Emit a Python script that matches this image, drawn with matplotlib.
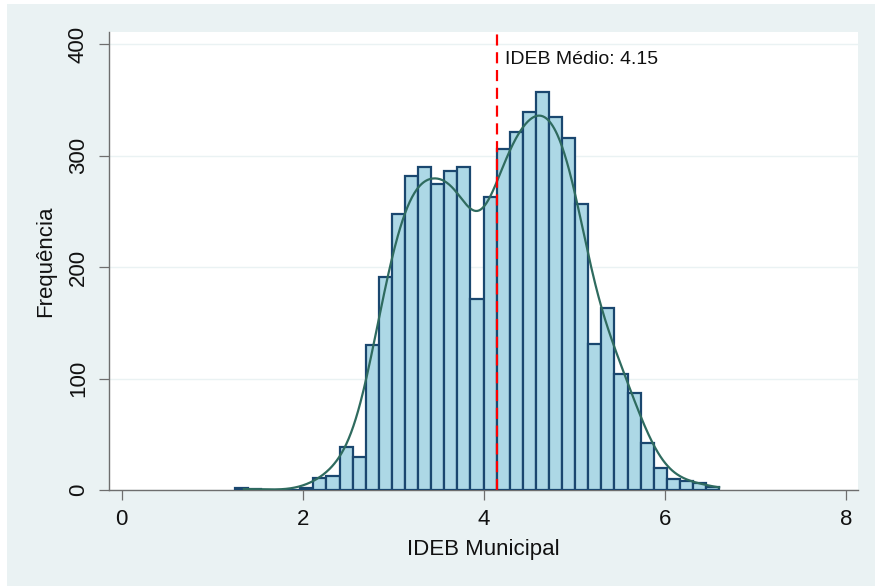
import math
import numpy as np
import matplotlib
matplotlib.use("Agg")
import matplotlib.pyplot as plt
from matplotlib.patches import Rectangle

plt.rcParams['font.family'] = ['Liberation Sans', 'DejaVu Sans']

# Histogram of municipal IDEB scores: 37 equal-width bins
bin_start = 1.25
bin_end = 6.60
counts = [2, 1, 0, 0, 0, 2,
          11, 13, 39, 30, 130, 191, 248, 282, 290, 275, 286, 290, 171, 263,
          306, 321, 339, 357, 335, 316, 257, 131, 163, 104, 87, 42, 20, 10, 8, 6, 3]
ideb_mean = 4.15
mean_label = "IDEB Médio: 4.15"

x_ticks = [0, 2, 4, 6, 8]
y_ticks = [0, 100, 200, 300, 400]

BG = "#EAF2F3"
BAR_FILL = "#ADD8E6"
BAR_EDGE = "#1A476F"
KDE_COLOR = "#2F6B5F"
AXIS_COLOR = "#6E6E6E"

counts = np.asarray(counts, dtype=float)
nbins = len(counts)
edges = np.linspace(bin_start, bin_end, nbins + 1)
width = edges[1] - edges[0]

fig = plt.figure(figsize=(8.75, 5.86), dpi=100, facecolor="white")
fig.patches.append(Rectangle((7 / 875, 0), 1, 1 - 4 / 586, transform=fig.transFigure,
                             facecolor=BG, edgecolor="none", zorder=-10))

ax = fig.add_axes([109 / 875, (586 - 490) / 586, 749 / 875, 458 / 586])
ax.set_facecolor("white")

ax.bar(edges[:-1], counts, width=width, align="edge", color=BAR_FILL,
       edgecolor=BAR_EDGE, linewidth=1.6, zorder=3)

# Smoothed density, scaled to frequency units (binned data convolved with a Gaussian)
h = 0.19
xs = np.linspace(bin_start + 0.1, bin_end, 600)
erf = np.vectorize(math.erf)
def phi(z):
    return 0.5 * (1 + erf(z / math.sqrt(2)))
dens = np.zeros_like(xs)
for c, lo, hi in zip(counts, edges[:-1], edges[1:]):
    dens += c * (phi((xs - lo) / h) - phi((xs - hi) / h))
ax.plot(xs, dens, color=KDE_COLOR, linewidth=1.6, zorder=4)

ax.axvline(ideb_mean, color="#FF0000", linewidth=1.6, linestyle=(0, (5, 3)), zorder=5)
ax.text(ideb_mean + 0.08, 386.5, mean_label, fontsize=14, va="center", ha="left",
        color="#111111", zorder=6)

ax.set_xlim(-0.14, 8.134)
ax.set_ylim(0, 411)
ax.set_xticks(x_ticks)
ax.set_yticks(y_ticks)
ax.set_xticklabels([str(t) for t in x_ticks])
ax.set_yticklabels([str(t) for t in y_ticks], rotation=90, va="center")

ax.yaxis.grid(True, color=BG, linewidth=1.0, zorder=0)
ax.set_axisbelow(True)

for s in ("top", "right"):
    ax.spines[s].set_visible(False)
for s in ("left", "bottom"):
    ax.spines[s].set_color(AXIS_COLOR)
    ax.spines[s].set_linewidth(1.0)

ax.tick_params(axis="both", colors=AXIS_COLOR, labelcolor="#111111", labelsize=16,
               length=7.5, width=0.9)
ax.tick_params(axis="y", pad=7)
ax.tick_params(axis="x", pad=6)

ax.set_xlabel("IDEB Municipal", fontsize=16, color="#111111", va="center")
ax.set_ylabel("Frequência", fontsize=16, color="#111111", va="center")
ax.xaxis.set_label_coords(0.5, -0.131)
ax.yaxis.set_label_coords(-0.085, 0.5)

fig.savefig("out.png", dpi=100, facecolor=fig.get_facecolor())
